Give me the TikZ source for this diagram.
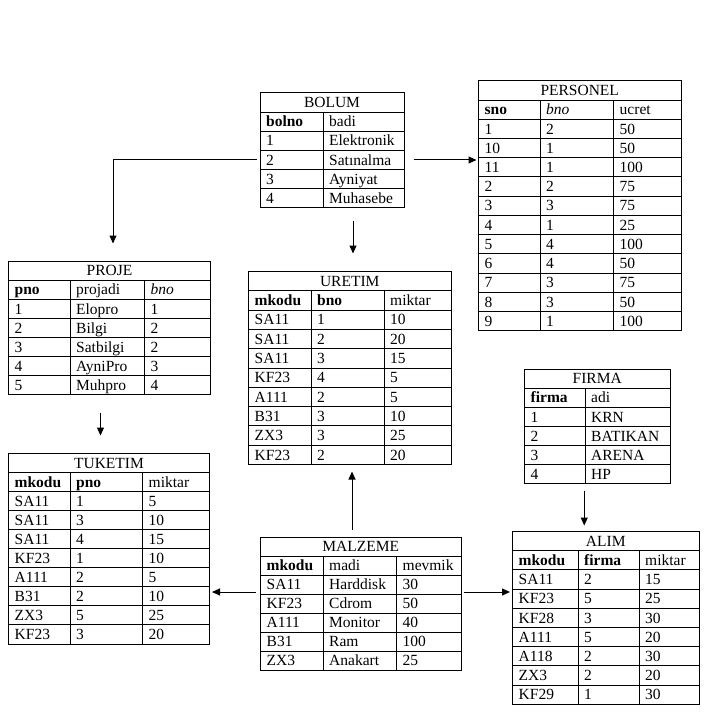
\documentclass[tikz,border=0pt]{standalone}
\usepackage{fontspec}
\setmainfont{Liberation Serif}
\usetikzlibrary{arrows.meta,fit}

\newcommand\tabfont{\fontsize{15.5pt}{18pt}\selectfont}

\tikzset{
  tabrule/.style={line width=1pt},
  tabframe/.style={draw, line width=1pt, inner sep=0pt},
  cell/.style={anchor=base west, inner sep=0pt, font=\tabfont},
  ttl/.style={anchor=base, inner sep=0pt, font=\tabfont},
  conn/.style={line width=1pt, -{Triangle[length=8pt,width=7pt]}},
}

% frame, rules and title of one table:
% #1 name, #2 left, #3 top, #4 right, #5 row height, #6 number of rows,
% #7 x of the column rules, #8 title
\newcommand\dbtable[8]{%
  \pgfmathsetmacro\dbbot{#3+#6*#5}
  \node[tabframe, fit={(#2,#3) (#4,\dbbot)}] (#1) {};
  \pgfmathtruncatemacro\dblast{#6-1}
  \foreach \i in {1,...,\dblast} \draw[tabrule] (#2,#3+\i*#5) -- (#4,#3+\i*#5);
  \foreach \c in {#7} \draw[tabrule] (\c,#3+#5) -- (\c,\dbbot);
  \node[ttl] (#1-title) at ({(#2+#4)/2},#3+14.8) {#8};
}

% cell texts, three columns: #1 name, #2 top, #3 row height, #4-#6 column left edges, #7 rows
\newcommand\cellsthree[7]{%
  \foreach \a/\b/\c [count=\r] in {#7} {
    \node[cell] (#1-\r-a) at (#4+6,#2+\r*#3+14.8) {\a};
    \node[cell] (#1-\r-b) at (#5+6,#2+\r*#3+14.8) {\b};
    \node[cell] (#1-\r-c) at (#6+6,#2+\r*#3+14.8) {\c};
  }
}
% cell texts, two columns
\newcommand\cellstwo[6]{%
  \foreach \a/\b [count=\r] in {#6} {
    \node[cell] (#1-\r-a) at (#4+6,#2+\r*#3+14.8) {\a};
    \node[cell] (#1-\r-b) at (#5+6,#2+\r*#3+14.8) {\b};
  }
}

\begin{document}
\begin{tikzpicture}[x=1pt,y=-1pt]
\useasboundingbox (0,0) rectangle (725,722);

% BOLUM
\dbtable{bolum}{260}{93}{404}{19.1}{6}{323}{BOLUM}
\cellstwo{bolum}{93}{19.1}{260}{323}{\textbf{bolno}/badi, 1/Elektronik, 2/Satınalma, 3/Ayniyat, 4/Muhasebe}

% PERSONEL
\dbtable{personel}{478.5}{81}{681}{19.2}{13}{540,613.5}{PERSONEL}
\cellsthree{personel}{81}{19.2}{478.5}{540}{613.5}{\textbf{sno}/\textit{bno}/ucret,
  1/2/50, 10/1/50, 11/1/100, 2/2/75, 3/3/75, 4/1/25, 5/4/100, 6/4/50, 7/3/75, 8/3/50, 9/1/100}

% PROJE
\dbtable{proje}{8.5}{261}{210.5}{19.1}{7}{70,144.5}{PROJE}
\cellsthree{proje}{261}{19.1}{8.5}{70}{144.5}{\textbf{pno}/projadi/\textit{bno},
  1/Elopro/1, 2/Bilgi/2, 3/Satbilgi/2, 4/AyniPro/3, 5/Muhpro/4}

% URETIM
\dbtable{uretim}{248.5}{271.5}{451}{19.3}{10}{311,384}{URETIM}
\cellsthree{uretim}{271.5}{19.3}{248.5}{311}{384}{\textbf{mkodu}/\textbf{bno}/miktar,
  SA11/1/10, SA11/2/20, SA11/3/15, KF23/4/5, A111/2/5, B31/3/10, ZX3/3/25, KF23/2/20}

% TUKETIM
\dbtable{tuketim}{8.5}{453.5}{209.5}{19.05}{10}{70,142.5}{TUKETIM}
\cellsthree{tuketim}{453.5}{19.05}{8.5}{70}{142.5}{\textbf{mkodu}/\textbf{pno}/miktar,
  SA11/1/5, SA11/3/10, SA11/4/15, KF23/1/10, A111/2/5, B31/2/10, ZX3/5/25, KF23/3/20}

% MALZEME
\dbtable{malzeme}{260.5}{537}{461}{19}{7}{323,396.5}{MALZEME}
\cellsthree{malzeme}{537}{19}{260.5}{323}{396.5}{\textbf{mkodu}/madi/mevmik,
  SA11/Harddisk/30, KF23/Cdrom/50, A111/Monitor/40, B31/Ram/100, ZX3/Anakart/25}

% FIRMA
\dbtable{firma}{524.5}{369}{670}{19.1}{6}{585}{FIRMA}
\cellstwo{firma}{369}{19.1}{524.5}{585}{\textbf{firma}/adi, 1/KRN, 2/BATIKAN, 3/ARENA, 4/HP}

% ALIM
\dbtable{alim}{512.5}{531.5}{699}{19.2}{9}{578,639}{ALIM}
\cellsthree{alim}{531.5}{19.2}{512.5}{578}{639}{\textbf{mkodu}/\textbf{firma}/miktar,
  SA11/2/15, KF23/5/25, KF28/3/30, A111/5/20, A118/2/30, ZX3/2/20, KF29/1/30}

% connectors
\draw[conn] ([xshift=-3pt,yshift=-9.7pt]bolum.west) -| ([xshift=3.5pt,yshift=17pt]proje.north);
\draw[conn, shorten >=1.5pt] ([xshift=9pt,yshift=-9.7pt]bolum.east) coordinate (bp)
  -- (personel.west |- bp);
\draw[conn, shorten >=17.5pt] ([xshift=21pt,yshift=-12.5pt]bolum.south) coordinate (bu)
  -- (bu |- uretim.north);
\draw[conn, shorten >=17.5pt] ([xshift=-9pt,yshift=-17.5pt]proje.south) coordinate (pt)
  -- (pt |- tuketim.north);
\draw[conn, shorten >=6.5pt] ([xshift=-8.75pt,yshift=7pt]malzeme.north) coordinate (mu)
  -- (mu |- uretim.south);
\draw[conn, shorten >=2pt] ([xshift=-4.5pt,yshift=11.5pt]malzeme.west) coordinate (mt)
  -- (mt -| tuketim.east);
\draw[conn, shorten >=2pt] ([xshift=2pt,yshift=11.5pt]malzeme.east) coordinate (ma)
  -- (ma -| alim.west);
\draw[conn, shorten >=5.5pt] ([xshift=-13pt,yshift=-6.5pt]firma.south) coordinate (fa)
  -- (fa |- alim.north);
\end{tikzpicture}
\end{document}
